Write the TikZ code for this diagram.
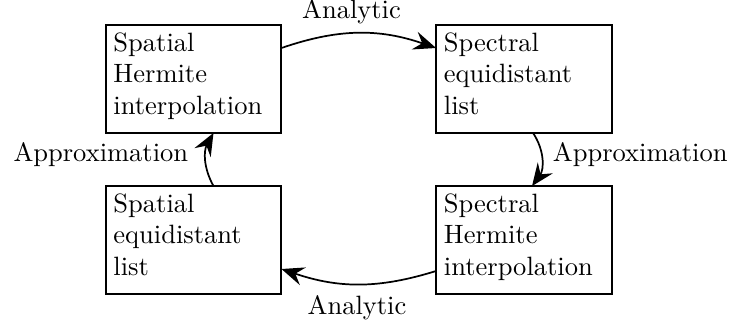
\documentclass[tikz,border=0pt]{standalone}
\usetikzlibrary{arrows.meta,calc}
\begin{document}
\begin{tikzpicture}[x=0.3774pt,y=0.3774pt,
  box/.style={draw, line width=0.75pt, rectangle, text width=60.4pt, align=left,
    inner xsep=3pt, inner ysep=0pt, text height=9.8pt, text depth=30.9pt, outer sep=0pt},
  flow/.style={line width=0.65pt, -{Stealth[length=8.5pt,width=7pt,inset=3pt]}},
  lbl/.style={anchor=base, inner sep=0pt}]
\useasboundingbox (0,0) rectangle (730,325);

% the four representations
\node[box] (spatH) at (193.5,246) {Spatial\\Hermite\\interpolation};
\node[box] (specE) at (524,246)   {Spectral\\equidistant\\list};
\node[box] (specH) at (524,85)    {Spectral\\Hermite\\interpolation};
\node[box] (spatE) at (193.5,85)  {Spatial\\equidistant\\list};

% transformation labels
\node[lbl] (anTop) at (351.5,306.7) {Analytic};
\node[lbl] (anBot) at (357,11)      {Analytic};
\node[lbl] (apLeft) at (100.8,164)  {Approximation};
\node[lbl] (apRight) at (640.2,164) {Approximation};

% transformations between them
\draw[flow] ($(spatH.east)+(0,31)$) to[bend left=19] ($(specE.west)+(0,31)$);
\draw[flow] ($(specE.south)+(9,0)$) to[bend left=35] ($(specH.north)+(8,0)$);
\draw[flow] ($(specH.west)+(0,-31)$) to[bend left=18] ($(spatE.east)+(0,-29)$);
\draw[flow] ($(spatE.north)+(20,0)$) to[bend left=29] ($(spatH.south)+(20,0)$);
\end{tikzpicture}
\end{document}
